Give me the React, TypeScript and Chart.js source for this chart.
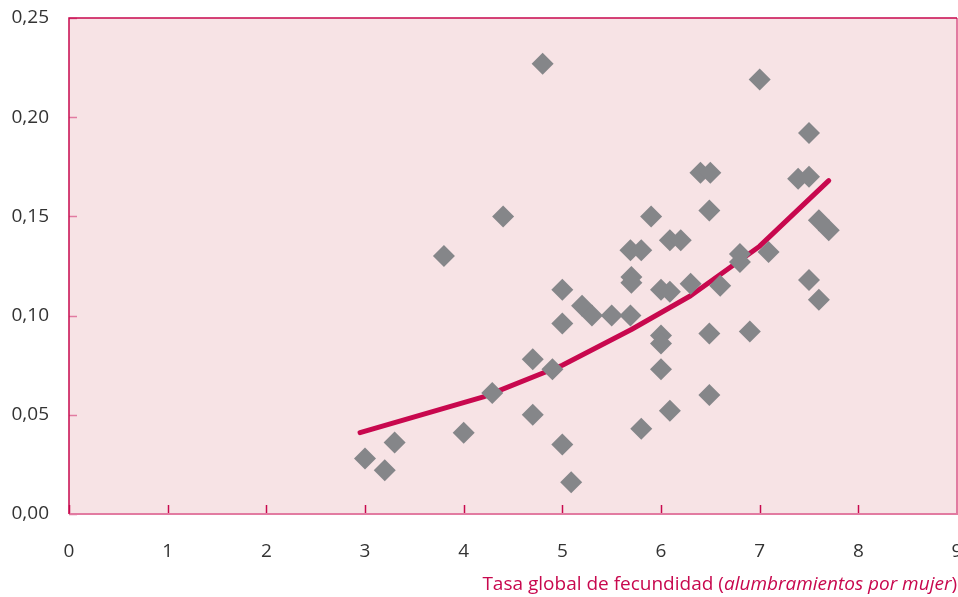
import React, { useEffect, useRef } from "react";
import { Chart, registerables } from "chart.js";

Chart.register(...registerables);

// Total fertility rate (births per woman) for each country
const fertility = [
  3.0, 3.2, 3.3, 3.8, 4.0, 4.29, 4.4, 4.7, 4.7, 4.8, 4.9, 5.0, 5.0, 5.0, 5.09,
  5.2, 5.3, 5.5, 5.69, 5.7, 5.7, 5.69, 5.8, 5.8, 5.9, 6.0, 6.09, 6.0, 6.0, 6.0,
  6.09, 6.09, 6.2, 6.3, 6.4, 6.5, 6.49, 6.49, 6.49, 6.6, 6.8, 6.8, 6.9, 7.0,
  7.09, 7.39, 7.5, 7.5, 7.5, 7.6, 7.6, 7.7,
];
// Matching value on the vertical axis
const ratio = [
  0.028, 0.022, 0.036, 0.13, 0.041, 0.061, 0.15, 0.05, 0.078, 0.227, 0.073,
  0.096, 0.113, 0.035, 0.016, 0.105, 0.1, 0.1, 0.1, 0.1195, 0.1165, 0.133,
  0.133, 0.043, 0.15, 0.113, 0.112, 0.09, 0.086, 0.073, 0.052, 0.138, 0.138,
  0.116, 0.172, 0.172, 0.153, 0.091, 0.06, 0.115, 0.127, 0.131, 0.092, 0.219,
  0.132, 0.169, 0.17, 0.192, 0.118, 0.148, 0.108, 0.143,
];

// Fitted trend
const trendX = [2.95, 4.2, 5.0, 5.7, 6.3, 7.0, 7.7];
const trendY = [0.041, 0.059, 0.075, 0.093, 0.11, 0.135, 0.168];

const xTicks = [0, 1, 2, 3, 4, 5, 6, 7, 8, 9];
const yTicks = [0, 0.05, 0.1, 0.15, 0.2, 0.25];

const titleParts = [
  { text: "Tasa global de fecundidad (", italic: false },
  { text: "alumbramientos por mujer", italic: true },
  { text: ")", italic: false },
];

const FONT = "'Open Sans', sans-serif";
const CRIMSON = "#C8084E";
const PINK = "#E27BA1";

const frame = {
  id: "frame",
  beforeDatasetsDraw(chart: any) {
    const { ctx, chartArea: a } = chart;
    ctx.save();
    ctx.fillStyle = "#F7E3E5";
    ctx.fillRect(a.left, a.top, a.right - a.left, a.bottom - a.top);
    ctx.restore();
  },
  afterDatasetsDraw(chart: any) {
    const { ctx, chartArea: a, scales } = chart;
    ctx.save();
    // inward tick marks
    ctx.lineWidth = 1.5;
    ctx.strokeStyle = CRIMSON;
    xTicks.forEach((v) => {
      const px = Math.round(scales.x.getPixelForValue(v)) + 0.5;
      ctx.beginPath();
      ctx.moveTo(px, a.bottom);
      ctx.lineTo(px, a.bottom - 9);
      ctx.stroke();
    });
    ctx.strokeStyle = PINK;
    yTicks.forEach((v) => {
      const py = Math.round(scales.y.getPixelForValue(v)) + 0.5;
      ctx.beginPath();
      ctx.moveTo(a.left, py);
      ctx.lineTo(a.left + 8, py);
      ctx.stroke();
    });
    // frame
    ctx.lineWidth = 2;
    ctx.strokeStyle = PINK;
    ctx.beginPath();
    ctx.moveTo(a.left, a.bottom);
    ctx.lineTo(a.right, a.bottom);
    ctx.lineTo(a.right, a.top);
    ctx.stroke();
    ctx.lineWidth = 1.5;
    ctx.strokeStyle = CRIMSON;
    ctx.beginPath();
    ctx.moveTo(a.right, a.top);
    ctx.lineTo(a.left, a.top);
    ctx.lineTo(a.left, a.bottom);
    ctx.stroke();

    // axis title with mixed styles, right aligned
    const size = 19;
    const fontOf = (it: boolean) => `${it ? "italic " : ""}${size}px ${FONT}`;
    let total = 0;
    titleParts.forEach((p) => {
      ctx.font = fontOf(p.italic);
      total += ctx.measureText(p.text).width;
    });
    let x = a.right - total;
    const y = 590;
    ctx.fillStyle = CRIMSON;
    ctx.textBaseline = "alphabetic";
    ctx.textAlign = "left";
    titleParts.forEach((p) => {
      ctx.font = fontOf(p.italic);
      ctx.fillText(p.text, x, y);
      x += ctx.measureText(p.text).width;
    });
    ctx.restore();
  },
};

// Canvas runs a little past the visible box so the last x label is cut at the edge
const CANVAS_W = 968;

export default function App() {
  const ref = useRef<HTMLCanvasElement>(null);

  useEffect(() => {
    if (!ref.current) return;
    const chart = new Chart(ref.current, {
      type: "scatter",
      data: {
        datasets: [
          {
            type: "scatter",
            data: fertility.map((x, i) => ({ x, y: ratio[i] })),
            pointStyle: "rectRot",
            pointRadius: 11,
            pointHoverRadius: 11,
            backgroundColor: "#858689",
            borderWidth: 0,
            order: 0,
          },
          {
            type: "line",
            data: trendX.map((x, i) => ({ x, y: trendY[i] })),
            borderColor: CRIMSON,
            borderWidth: 5,
            borderCapStyle: "round",
            borderJoinStyle: "round",
            pointRadius: 0,
            tension: 0,
            fill: false,
            order: 1,
          },
        ],
      },
      options: {
        animation: false,
        responsive: false,
        layout: { padding: { top: 18, right: 2, left: 0, bottom: 0 } },
        plugins: {
          legend: { display: false },
          tooltip: { enabled: false },
        },
        scales: {
          x: {
            type: "linear",
            min: 0,
            max: 9,
            afterBuildTicks: (s: any) => {
              s.ticks = xTicks.map((v) => ({ value: v }));
            },
            afterFit: (s: any) => {
              s.height = 83;
              s.paddingLeft = 0;
              s.paddingRight = 0;
            },
            grid: { display: false, drawTicks: false },
            border: { display: false },
            ticks: {
              padding: 26,
              color: "#333333",
              font: { family: FONT, size: 19 },
              callback: (v: any) => String(v),
            },
          },
          y: {
            type: "linear",
            min: 0,
            max: 0.25,
            afterBuildTicks: (s: any) => {
              s.ticks = yTicks.map((v) => ({ value: v }));
            },
            afterFit: (s: any) => {
              s.width = 69;
              s.paddingTop = 0;
              s.paddingBottom = 0;
            },
            grid: { display: false, drawTicks: false },
            border: { display: false },
            ticks: {
              padding: 20,
              color: "#333333",
              font: { family: FONT, size: 19 },
              callback: (v: any) => Number(v).toFixed(2).replace(".", ","),
            },
          },
        },
      },
      plugins: [frame],
    });
    return () => chart.destroy();
  }, []);

  return (
    <div
      style={{
        position: "absolute",
        left: 0,
        top: 0,
        width: 958,
        height: 597,
        overflow: "hidden",
      }}
    >
      <canvas ref={ref} width={CANVAS_W} height={597} style={{ display: "block" }} />
    </div>
  );
}
